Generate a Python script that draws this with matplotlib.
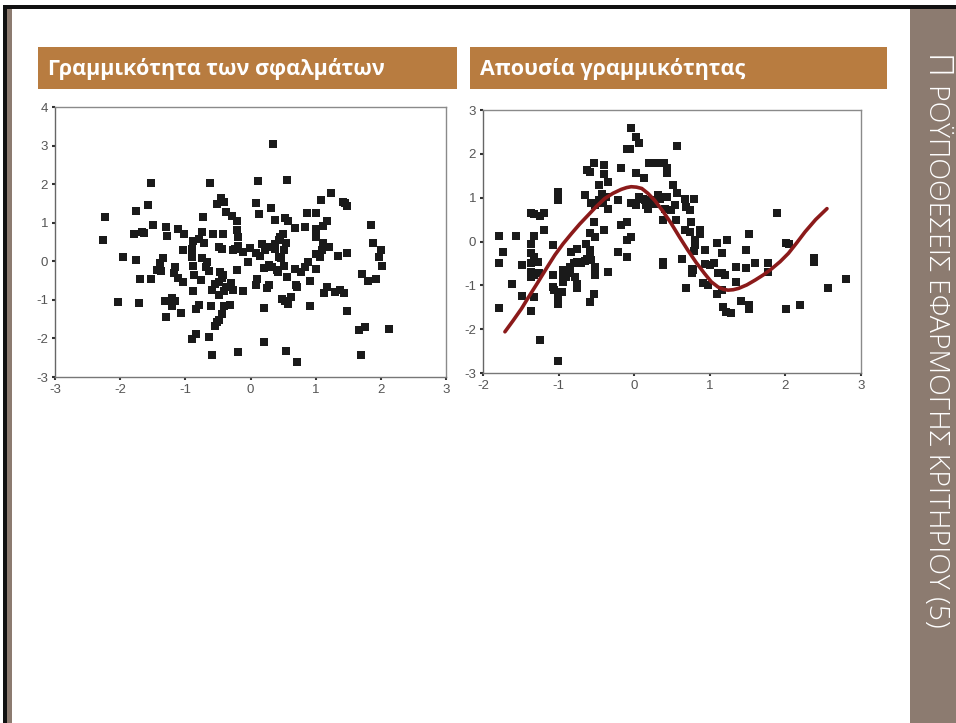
import matplotlib
matplotlib.use("Agg")
import matplotlib.pyplot as plt
from matplotlib.patches import Rectangle

# ---------------- data ----------------
title_left = "Γραμμικότητα των σφαλμάτων"
title_right = "Απουσία γραμμικότητας"
side_first = "Π"
side_rest = "ΡΟΫΠΟΘΕΣΕΙΣ ΕΦΑΡΜΟΓΗΣ ΚΡΙΤΗΡΙΟΥ (5)"

left_x = [0.35, -1.53, -0.62, 0.12, 0.56, 1.24, 1.08, 1.42, 1.45, 1.48, -1.57, -1.76, -2.24, -0.73,
          -0.46, -0.41, -0.51, 0.08, 0.31, -0.37, -0.29, -0.21, 0.13, 0.38, 0.53, 0.57, 0.86, 1.0,
          1.17, 1.11, 0.68, 0.83, 1.0, 1.85, -1.5, -1.3, -1.28, -1.12, -1.02, -1.79, -1.66, -1.64,
          -0.74, -0.57, -0.42, -0.2, -0.19, -2.27, -0.88, -0.79, -0.71, -0.9, -1.04, -0.48, -0.43,
          -0.27, -0.24, -0.19, -0.11, -0.01, 0.09, 0.14, 0.18, 0.22, 0.29, 0.37, 0.38, 0.43, 0.46,
          0.5, 0.54, 0.44, 0.47, 0.51, 1.0, 1.11, 1.1, 1.21, 1.0, 1.06, 1.35, 1.48, 1.88, 2.0, 1.97,
          2.02, -1.95, -1.76, -1.35, -1.39, -1.43, -1.37, -1.16, -0.9, -0.74, -0.67, -0.69, -0.64,
          -0.88, -0.04, -0.2, 0.29, 0.33, 0.4, 0.42, 0.21, 0.51, 0.69, 0.78, 0.84, 0.88, 1.0, -1.7,
          -1.53, -1.18, -1.11, -1.04, -0.86, -0.76, -0.47, -0.42, -0.44, -0.48, -0.54, -0.59, -0.49,
          -0.38, -0.3, -0.41, -0.27, -0.12, 0.1, 0.08, 0.29, 0.26, 0.56, 0.7, 0.71, 0.91, 1.13, 1.18,
          1.29, 1.37, 1.44, 1.71, 1.81, 1.92, -2.03, -1.71, -1.31, -1.2, -1.16, -1.21, -1.3, -1.06,
          -0.88, -0.83, -0.79, -0.6, -0.41, -0.31, -0.43, -0.48, -0.51, -0.54, 0.21, 0.48, 0.53,
          0.57, 0.62, 0.91, 1.48, -0.9, -0.84, -0.64, -0.59, -0.19, 0.21, 0.54, 0.72, 1.67, 1.76,
          1.69, 2.12]
left_y = [3.05, 2.04, 2.04, 2.09, 2.1, 1.78, 1.59, 1.54, 1.5, 1.44, 1.46, 1.31, 1.16, 1.16,
          1.63, 1.54, 1.48, 1.5, 1.37, 1.28, 1.17, 1.05, 1.22, 1.07, 1.11, 1.05, 1.25, 1.26,
          1.04, 0.91, 0.87, 0.9, 0.85, 0.94, 0.94, 0.89, 0.66, 0.85, 0.71, 0.72, 0.76, 0.73,
          0.77, 0.71, 0.71, 0.81, 0.62, 0.55, 0.53, 0.58, 0.47, 0.33, 0.29, 0.38, 0.32,
          0.29, 0.32, 0.4, 0.25, 0.34, 0.21, 0.15, 0.45, 0.29, 0.38, 0.31, 0.45, 0.55, 0.63,
          0.72, 0.47, 0.12, 0.08, 0.29, 0.64, 0.48, 0.29, 0.36, 0.2, 0.12, 0.15, 0.21, 0.47, 0.29, 0.12,
          -0.13, 0.12, 0.04, 0.09, -0.05, -0.22, -0.26, -0.16, 0.12, 0.09, -0.01, -0.16, -0.24,
          -0.12, -0.03, -0.23, -0.09, -0.14, -0.22, -0.27, -0.18, -0.11, -0.19, -0.29, -0.16, -0.03, -0.2, -0.47,
          -0.47, -0.31, -0.44, -0.53, -0.35, -0.48, -0.29, -0.35, -0.44, -0.54, -0.59, -0.74, -0.87,
          -0.67, -0.55, -0.78, -0.74, -0.78, -0.45, -0.61, -0.61, -0.68, -0.42, -0.61, -0.66, -0.51, -0.83, -0.67,
          -0.8, -0.74, -0.83, -0.34, -0.5, -0.46, -1.06, -1.09, -1.02, -0.95, -1.02, -1.16, -1.45, -1.34,
          -0.78, -1.24, -1.13, -1.17, -1.17, -1.13, -1.36, -1.52, -1.58, -1.67, -1.22, -0.98, -1.04,
          -1.11, -0.93, -1.15, -1.28, -2.01, -1.89, -1.97, -2.44, -2.36, -2.09, -2.32, -2.6, -1.78, -1.71,
          -2.44, -1.75]

right_x = [-0.045, 0.02, 0.07, -0.1, -0.06, 0.56, -0.17, 0.03, 0.13, 0.2, 0.3, 0.35, 0.39, 0.43, 0.44,
           0.51, -0.53, -0.4, -0.4, -0.63, -0.59, -0.35, -0.47, -0.43, -0.37, -0.65, -0.57, -0.52,
           -0.46, -0.41, -0.35, -0.22, -0.04, 0.03, 0.07, 0.12, 0.14, 0.16, 0.18, 0.23, 0.26, 0.32,
           0.34, 0.38, 0.44, 0.41, 0.49, 0.54, 0.56, 0.38, 0.55, 0.67, 0.69, 0.74, 0.79, 0.67, 0.74,
           0.75, 0.87, 0.87, 0.8, 0.8, 0.79, 0.93, 0.63, 0.68, 0.76, 0.76, 0.78, 0.93, 1.0, 1.05,
           0.91, 0.98, 1.1, 1.16, 1.23, 1.11, 1.16, 1.2, 1.1, 1.16, 1.17, 1.22, 1.28, 1.35, 1.35,
           1.41, 1.48, 1.48, 1.52, 1.52, 1.52, 1.6, 1.77, 1.77, 1.89, 2.01, 2.05, 2.01, 2.19, 2.38,
           2.38, 2.56, 2.8, -1.79, -1.73, -1.79, -1.79, -1.56, -1.61, -1.49, -1.49, -1.37, -1.32,
           -1.25, -1.19, -1.32, -1.37, -1.36, -1.32, -1.36, -1.27, -1.36, -1.32, -1.26, -1.37, -1.32,
           -1.37, -1.25, -1.19, -1.01, -1.07, -1.01, -1.01, -1.07, -1.07, -1.06, -1.01, -1.01, -0.94,
           -0.94, -0.9, -0.9, -0.94, -0.95, -0.85, -0.85, -0.83, -0.79, -0.78, -0.76, -0.76, -0.76,
           -0.76, -0.7, -0.65, -0.64, -0.59, -0.59, -0.63, -0.57, -0.59, -0.52, -0.53, -0.52, -0.52,
           -0.53, -0.59, -0.35, -0.4, -0.22, -0.17, -0.1, -0.1, -0.1, -0.04, 0.38, 0.38]
right_y = [2.58, 2.39, 2.25, 2.1, 2.12, 2.18, 1.67, 1.57, 1.44, 1.8, 1.8, 1.8, 1.78, 1.67, 1.57,
           1.29, 1.8, 1.74, 1.55, 1.63, 1.59, 1.36, 1.29, 1.08, 1.02, 1.06, 0.87, 0.83,
           0.94, 0.88, 0.75, 0.94, 0.87, 0.83, 1.02, 0.98, 0.94, 0.83, 0.75, 0.94, 0.85, 1.06,
           0.98, 1.02, 1.02, 0.75, 0.72, 0.83, 1.1, 0.49, 0.49, 0.98, 0.79, 0.72, 0.97, 0.26, 0.22,
           0.45, 0.27, 0.18, 0.03, -0.08, -0.21, -0.2, -0.39, -1.07, -0.62, -0.73, -0.66, -0.52, -0.54, -0.5,
           -0.95, -1.0, -0.03, -0.27, 0.04, -0.73, -0.73, -0.77, -1.2, -1.11, -1.49, -1.61, -1.63, -0.58, -0.92,
           -1.36, -0.2, -0.6, 0.17, -1.46, -1.53, -0.48, -0.5, -0.69, 0.66, -0.03, -0.05, -1.53, -1.44, -0.37,
           -0.47, -1.05, -0.86, 0.13, -0.25, -0.5, -1.51, 0.13, -0.96, -0.54, -1.25, 0.64, 0.62,
           0.58, 0.64, 0.13, -0.05, -0.26, -0.35, -0.5, -0.47, -0.69, -0.77, -0.72, -0.81, -1.27,
           -1.58, -2.24, 0.26, -2.73, -0.08, 1.13, 0.94, -0.77, -1.04, -1.11, -1.27, -1.42, -0.66,
           -0.77, -0.66, -0.81, -0.92, -1.15, -0.58, -0.73, -0.24, -0.5, -0.81, -0.16, -0.47, -0.96,
           -1.07, -0.5, -0.44, -0.06, -0.2, -0.31, -0.39, -0.43, 0.2, 0.11, 0.45, -0.58, -0.77,
           -1.19, -1.38, -0.69, 0.26, -0.25, 0.37, 0.45, 0.03, -0.35, 0.11, -0.47, -0.54]

curve_x = [-1.71, -1.6, -1.49, -1.38, -1.27, -1.16, -1.05, -0.94, -0.83, -0.72, -0.61, -0.5,
           -0.39, -0.28, -0.17, -0.1, -0.04, 0.03, 0.1, 0.18, 0.27, 0.38, 0.49, 0.6, 0.71, 0.82,
           0.93, 1.02, 1.11, 1.18, 1.24, 1.31, 1.38, 1.49, 1.6, 1.71, 1.82, 1.93, 2.04, 2.15,
           2.26, 2.4, 2.55]
curve_y = [-2.06, -1.8, -1.53, -1.22, -0.92, -0.61, -0.31, -0.05, 0.18, 0.4, 0.6, 0.8,
           0.98, 1.1, 1.19, 1.23, 1.25, 1.24, 1.21, 1.1, 0.94, 0.69, 0.41, 0.1, -0.2, -0.48,
           -0.73, -0.92, -1.04, -1.09, -1.11, -1.1, -1.07, -0.99, -0.88, -0.76, -0.62, -0.46,
           -0.27, -0.03, 0.22, 0.5, 0.75]

left_xticks = [-3, -2, -1, 0, 1, 2, 3]
left_yticks = [-3, -2, -1, 0, 1, 2, 3, 4]
right_xticks = [-2, -1, 0, 1, 2, 3]
right_yticks = [-3, -2, -1, 0, 1, 2, 3]

# ---------------- figure ----------------
W, H = 956, 723
fig = plt.figure(figsize=(W / 100, H / 100), dpi=100)
fig.patch.set_facecolor("white")


def px_rect(x0, y0, x1, y1, color):
    fig.patches.append(Rectangle((x0 / W, 1 - y1 / H), (x1 - x0) / W, (y1 - y0) / H,
                                 transform=fig.transFigure, facecolor=color,
                                 edgecolor="none", zorder=0))


# slide frame
px_rect(3, 5, 956, 9, "#111111")
px_rect(3, 5, 7, 723, "#111111")
px_rect(7, 9, 12, 723, "#8c7b70")
# sidebar
px_rect(910, 9, 956, 723, "#8c7b70")
# headers
hdr = "#b87c40"
px_rect(38, 47, 457, 89, hdr)
px_rect(470, 47, 887, 89, hdr)
fig.text(48 / W, 1 - 69 / H, title_left, color="white", fontsize=15.5, fontweight="bold",
         family=["Open Sans", "DejaVu Sans"], va="center", ha="left")
fig.text(480 / W, 1 - 69 / H, title_right, color="white", fontsize=15.5, fontweight="bold",
         family=["Open Sans", "DejaVu Sans"], va="center", ha="left")

# sidebar text
fig.text(926 / W, 1 - 55 / H, side_first, color="white", fontsize=24, fontweight="light",
         family=["Open Sans", "DejaVu Sans"], rotation=270, rotation_mode="anchor",
         ha="left", va="baseline")
fig.text(929 / W, 1 - 84 / H, side_rest, color="white", fontsize=20.5, fontweight="light",
         family=["Open Sans", "DejaVu Sans"], rotation=270, rotation_mode="anchor",
         ha="left", va="baseline")


def style_axes(ax, xt, yt):
    for s in ax.spines.values():
        s.set_color("#8a8a8a")
        s.set_linewidth(1.0)
    ax.spines["left"].set_color("#666666")
    ax.spines["bottom"].set_color("#777777")
    ax.set_xticks(xt)
    ax.set_yticks(yt)
    ax.set_xticklabels([str(v) for v in xt])
    ax.set_yticklabels([str(v) for v in yt])
    ax.tick_params(direction="out", length=2, width=1.5, color="#333333",
                   labelsize=9.5, labelcolor="#555555", pad=3)
    for lab in ax.get_xticklabels() + ax.get_yticklabels():
        lab.set_family(["Liberation Sans", "DejaVu Sans"])


ax1 = fig.add_axes([55 / W, 1 - 377 / H, 391 / W, 270 / H])
ax1.scatter(left_x, left_y, marker="s", s=28, color="#1a1a1a", linewidths=0, zorder=3)
ax1.set_xlim(-3, 3)
ax1.set_ylim(-3, 4)
style_axes(ax1, left_xticks, left_yticks)

ax2 = fig.add_axes([483 / W, 1 - 373 / H, 378 / W, 263 / H])
ax2.scatter(right_x, right_y, marker="s", s=28, color="#1a1a1a", linewidths=0, zorder=3)
ax2.plot(curve_x, curve_y, color="#8b1a1a", linewidth=2.6, zorder=4,
         solid_capstyle="round", solid_joinstyle="round")
ax2.set_xlim(-2, 3)
ax2.set_ylim(-3, 3)
style_axes(ax2, right_xticks, right_yticks)

fig.savefig("out.png", dpi=100, facecolor="white")
